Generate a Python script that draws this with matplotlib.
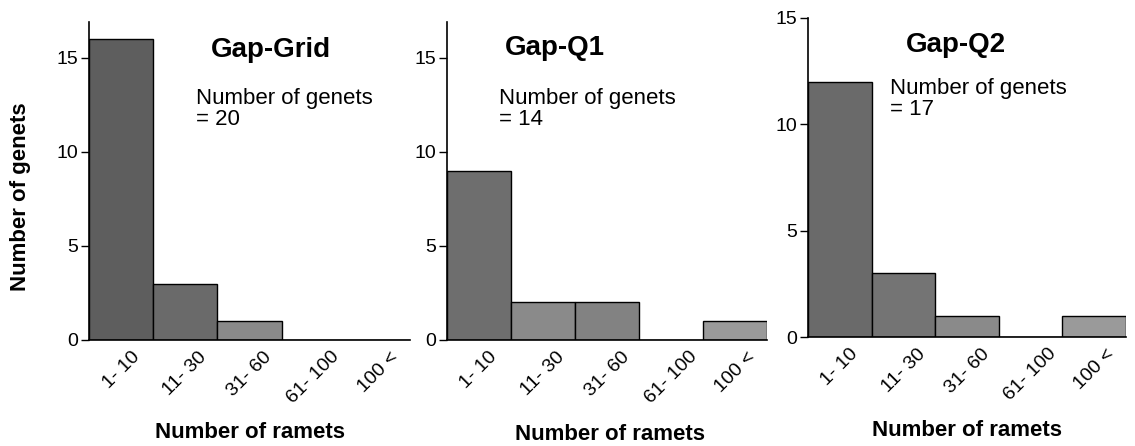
import matplotlib
matplotlib.use("Agg")
import matplotlib.pyplot as plt

plt.rcParams["font.family"] = ["Liberation Sans", "DejaVu Sans"]

# ramet classes (x axis)
ramet_classes = ["1- 10", "11- 30", "31- 60", "61- 100", "100 <"]

# number of genets per ramet class for each site
gap_grid = [16, 3, 1, 0, 0]
gap_q1 = [9, 2, 2, 0, 1]
gap_q2 = [12, 3, 1, 0, 1]

panel_titles = ["Gap-Grid", "Gap-Q1", "Gap-Q2"]
genet_totals = [20, 14, 17]
y_tops = [16.9, 16.9, 15]

W, H = 1135, 446
fig = plt.figure(figsize=(W / 100, H / 100), dpi=100)


def px(x, y):
    return x / W, 1 - y / H


def make_axes(left, right, base, top):
    return fig.add_axes([left / W, 1 - base / H, (right - left) / W, (base - top) / H])


# axes boxes in pixels: left, right, baseline, top
boxes = [(89, 410, 340, 22), (447, 767, 340, 22), (808, 1126, 337, 18)]
colours = [
    ["#5e5e5e", "#6a6a6a", "#8a8a8a", "#888888", "#888888"],
    ["#6e6e6e", "#8a8a8a", "#828282", "#888888", "#9a9a9a"],
    ["#6a6a6a", "#747474", "#8a8a8a", "#888888", "#9a9a9a"],
]
title_pos = [(211, 57), (505, 55), (906, 52)]
note_pos = [(196, 88), (499, 88), (890, 78)]
xlabel_pos = [(250, 432), (610, 435), (967, 430)]

data = [gap_grid, gap_q1, gap_q2]
pos = list(range(len(ramet_classes)))

for i, counts in enumerate(data):
    ax = make_axes(*boxes[i])
    ax.bar(pos, counts, width=1.0, color=colours[i], edgecolor="black", linewidth=1.0)
    ax.set_xlim(-0.5, 4.5)
    ax.set_ylim(0, y_tops[i])
    ax.set_yticks([0, 5, 10, 15])
    ax.set_xticks(pos)
    ax.set_xticklabels(ramet_classes, rotation=45, ha="center", fontsize=14)
    ax.tick_params(axis="x", length=0, pad=6)
    ax.tick_params(axis="y", length=6, width=1, labelsize=14, pad=2)
    for s in ["top", "right"]:
        ax.spines[s].set_visible(False)
    ax.spines["left"].set_linewidth(1.2)
    ax.spines["bottom"].set_linewidth(1.2)

    fig.text(*px(*title_pos[i]), panel_titles[i], fontsize=20, fontweight="bold",
             ha="left", va="baseline")
    fig.text(*px(*note_pos[i]), f"Number of genets\n= {genet_totals[i]}", fontsize=16,
             ha="left", va="top", linespacing=1.0)
    fig.text(*px(*xlabel_pos[i]), "Number of ramets", fontsize=16, fontweight="bold",
             ha="center", va="center")

fig.text(*px(21, 197), "Number of genets", fontsize=16, fontweight="bold",
         rotation=90, ha="center", va="center")

fig.savefig("out.png", dpi=100)
